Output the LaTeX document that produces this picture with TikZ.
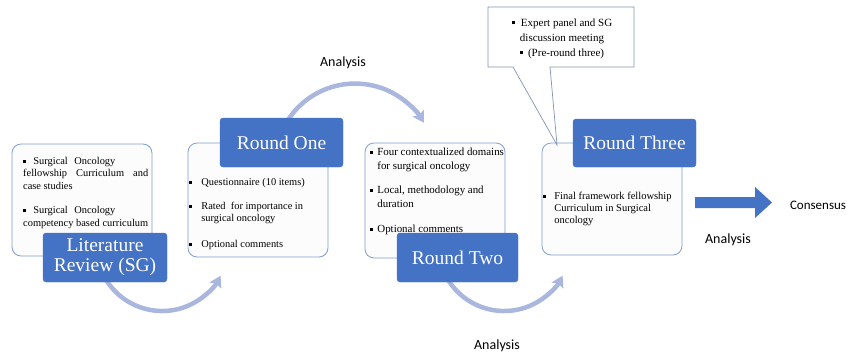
\documentclass[tikz,border=0pt]{standalone}
\usepackage{fontspec}
\setmainfont{Liberation Serif}
\newfontfamily\calibrifont{Carlito}
\usetikzlibrary{arrows.meta}

\definecolor{boxblue}{HTML}{4472C4}
\definecolor{arcblue}{HTML}{A9B6DD}
\definecolor{edgeblue}{HTML}{7E9DD3}
\definecolor{calloutedge}{HTML}{8093B4}
\definecolor{panelfill}{HTML}{FCFCFC}

\newcommand\sqbul{\rule[1.6pt]{3.2pt}{3.2pt}}

\tikzset{
  panel/.style={draw=edgeblue, line width=0.8pt, fill=panelfill, rounded corners=9pt},
  titlebox/.style={fill=boxblue, draw=boxblue, rounded corners=3pt, text=white,
    align=center, font=\fontsize{19.5}{20}\selectfont, inner sep=0pt},
  listtext/.style={anchor=base west, inner sep=0pt, align=left},
  arcline/.style={draw=arcblue, line width=4.5pt,
    -{Stealth[length=11pt,width=13pt,inset=2pt]}},
  sanslabel/.style={font=\calibrifont\fontsize{14}{16}\selectfont, inner sep=0pt}
}

\begin{document}
\begin{tikzpicture}[x=1pt,y=-1pt]
\useasboundingbox (0,0) rectangle (861,354);

% curved "Analysis" arrows between the rounds (drawn first, boxes cover their starts)
\coordinate (arcA) at (105,278);
\coordinate (arcB) at (288,120);
\coordinate (arcC) at (447,278);
\draw[arcline] (arcA) arc[start angle=150, end angle=27.7, radius=66];
\draw[arcline] (arcB) arc[start angle=213, end angle=329.3, radius=80];
\draw[arcline] (arcC) arc[start angle=150, end angle=27.7, radius=66];

% content panels
\node[panel, minimum width=140pt, minimum height=112pt] (p1) at (82,200) {};
\node[panel, minimum width=140pt, minimum height=114pt] (p2) at (258,200) {};
\node[panel, minimum width=140pt, minimum height=115pt] (p3) at (435,200.5) {};
\node[panel, minimum width=140pt, minimum height=112pt] (p4) at (612,199) {};

% panel texts
\node[listtext, font=\fontsize{10.4}{12.3}\selectfont] (t1) at (23,164.5) {%
  \begin{tabular}[t]{@{}l@{}}
  \sqbul\hspace{7pt}Surgical\hspace{6.5pt}Oncology\\
  \makebox[125pt][s]{fellowship Curriculum and}\\
  case studies\\[12.5pt]
  \sqbul\hspace{7pt}Surgical\hspace{6.5pt}Oncology\\
  \makebox[125pt][s]{competency based curriculum}
  \end{tabular}};

\node[listtext, font=\fontsize{10.4}{12}\selectfont] (t2) at (189,185.5) {%
  \begin{tabular}[t]{@{}l@{\hspace{9pt}}l@{}}
  \sqbul & Questionnaire (10 items)\\[12pt]
  \sqbul & Rated\ \ for importance in\\
         & surgical oncology\\[14pt]
  \sqbul & Optional comments
  \end{tabular}};

\node[listtext, font=\fontsize{10.9}{14}\selectfont] (t3) at (370,155.5) {%
  \begin{tabular}[t]{@{}l@{\hspace{4pt}}l@{}}
  \sqbul & Four contextualized domains\\
         & for surgical oncology\\[10pt]
  \sqbul & Local, methodology and\\
         & duration\\[11pt]
  \sqbul & Optional comments
  \end{tabular}};

\node[listtext, font=\fontsize{10.5}{12}\selectfont] (t4) at (543,199.5) {%
  \begin{tabular}[t]{@{}l@{\hspace{8pt}}l@{}}
  \sqbul & Final framework fellowship\\
         & Curriculum in Surgical\\
         & oncology
  \end{tabular}};

% title boxes
\node[titlebox, minimum width=124pt, minimum height=49pt] (lit) at (105,257.5) {Literature\\Review (SG)};
\node[titlebox, minimum width=123pt, minimum height=49pt] (r1) at (281.5,142.5) {Round One};
\node[titlebox, minimum width=121pt, minimum height=49pt] (r2) at (457.5,257.5) {Round Two};
\node[titlebox, minimum width=123pt, minimum height=48pt] (r3) at (634.5,143) {Round Three};

% callout above round three
\coordinate (tip) at (557,145);
\draw[draw=calloutedge, line width=0.7pt, fill=white]
  (488,7) -- (634,7) -- (634,67) -- (550,67) -- (tip) -- (513,67) -- (488,67) -- cycle;
\node[anchor=base, inner sep=0pt, font=\fontsize{11}{15}\selectfont] (call) at (562,26) {%
  \begin{tabular}[t]{@{}c@{}}
  \sqbul\hspace{6pt}Expert panel and SG\\
  discussion meeting\\
  \sqbul\hspace{5pt}(Pre-round three)
  \end{tabular}};

% block arrow to consensus
\fill[boxblue] (695,197) -- (755,197) -- (755,187) -- (772,202.5) -- (755,218)
  -- (755,208) -- (695,208) -- cycle;

% labels
\node[sanslabel] (an1) at (343,63) {Analysis};
\node[sanslabel] (an2) at (497,346) {Analysis};
\node[sanslabel] (an3) at (728,240) {Analysis};
\node[sanslabel, font=\calibrifont\fontsize{13}{15}\selectfont] (cons) at (818,205) {Consensus};
\end{tikzpicture}
\end{document}
